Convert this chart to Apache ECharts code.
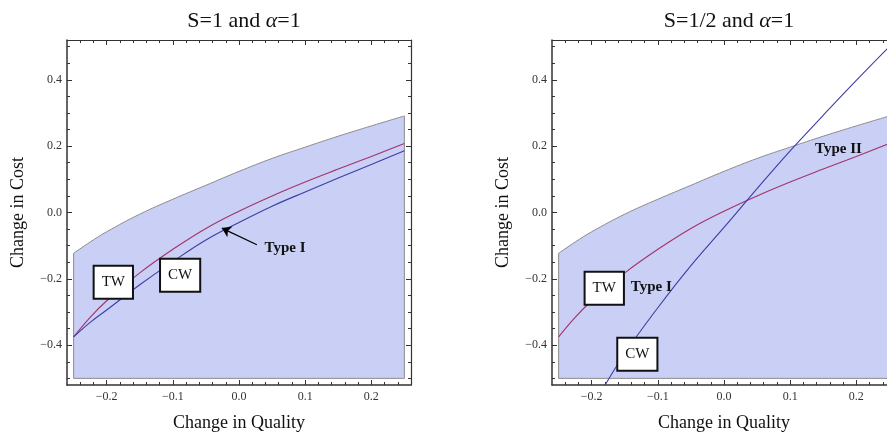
<!DOCTYPE html>
<html>
<head>
<meta charset="utf-8">
<script src="https://cdn.jsdelivr.net/npm/echarts@6/dist/echarts.min.js"></script>
<style>
  html, body { margin: 0; padding: 0; background: #fff; }
  #main { width: 887px; height: 432px; }
</style>
</head>
<body>
<div id="main"></div>
<script>
// quality grid shared by every curve
const qGrid = [-0.25, -0.225, -0.2, -0.15, -0.1, -0.05, 0, 0.05, 0.1, 0.15, 0.2, 0.25];
// top edge of the shaded region, its floor
const regionTop = [-0.123, -0.089, -0.058, -0.005, 0.040, 0.082, 0.124, 0.163, 0.197, 0.230, 0.261, 0.291];
const regionFloor = -0.5;
// TW curve (same in both panels)
const twCost = [-0.375, -0.316, -0.266, -0.182, -0.111, -0.048, 0.004, 0.050, 0.092, 0.131, 0.169, 0.208];
// CW curve, left panel (S=1)
const cwCostLeft = [-0.375, -0.331, -0.294, -0.218, -0.148, -0.083, -0.030, 0.019, 0.062, 0.104, 0.145, 0.186];
// CW curve, right panel (S=1/2)
const cwQRight = [-0.19, -0.15, -0.1, -0.05, 0, 0.05, 0.1, 0.15, 0.2, 0.25];
const cwCostRight = [-0.555, -0.425, -0.287, -0.160, -0.045, 0.072, 0.186, 0.293, 0.398, 0.500];

// ticks
const qMajor = [-0.2, -0.1, 0, 0.1, 0.2];
const qMinor = [-0.24, -0.22, -0.2, -0.18, -0.16, -0.14, -0.12, -0.1, -0.08, -0.06, -0.04, -0.02, 0,
  0.02, 0.04, 0.06, 0.08, 0.1, 0.12, 0.14, 0.16, 0.18, 0.2, 0.22, 0.24];
const cMajor = [-0.4, -0.2, 0, 0.2, 0.4];
const cMinor = [-0.5, -0.45, -0.4, -0.35, -0.3, -0.25, -0.2, -0.15, -0.1, -0.05, 0,
  0.05, 0.1, 0.15, 0.2, 0.25, 0.3, 0.35, 0.4, 0.45, 0.5];

// labels: [x, y, text]
const boxesLeft = [[-0.190, -0.210, 'TW'], [-0.089, -0.189, 'CW']];
const boxesRight = [[-0.181, -0.228, 'TW'], [-0.131, -0.427, 'CW']];
const notesLeft = [[0.0695, -0.106, 'Type I']];
const notesRight = [[-0.110, -0.224, 'Type I'], [0.173, 0.192, 'Type II']];
const arrowLeft = [[0.027, -0.097], [-0.026, -0.047]];

const serif = 'Liberation Serif, Times New Roman, DejaVu Serif, serif';
const frame = '#333';
const fill = '#c9cff5';
const redCol = '#a3336a';
const blueCol = '#3d3da6';

function fmt(v) {
  return (v < 0 ? '\u2212' : '') + Math.abs(v).toFixed(1);
}

function xAxes(g) {
  const base = { gridIndex: g, type: 'value', min: -0.26, max: 0.26, splitLine: { show: false } };
  return [
    Object.assign({}, base, {
      position: 'bottom',
      axisLine: { onZero: false, lineStyle: { color: frame, width: 1.5 } },
      axisTick: { inside: true, length: 5, customValues: qMajor, lineStyle: { color: frame } },
      axisLabel: { customValues: qMajor, formatter: fmt, margin: 6, fontFamily: serif, fontSize: 12, color: '#333' },
      name: 'Change in Quality', nameLocation: 'middle', nameGap: 29,
      nameTextStyle: { fontFamily: serif, fontSize: 18, color: '#111' }
    }),
    Object.assign({}, base, {
      position: 'bottom',
      axisLine: { show: false, onZero: false },
      axisTick: { inside: true, length: 3, customValues: qMinor, lineStyle: { color: frame } },
      axisLabel: { show: false }
    }),
    Object.assign({}, base, {
      position: 'top',
      axisLine: { onZero: false, lineStyle: { color: frame, width: 1.2 } },
      axisTick: { inside: true, length: 5, customValues: qMajor, lineStyle: { color: frame } },
      axisLabel: { show: false }
    }),
    Object.assign({}, base, {
      position: 'top',
      axisLine: { show: false, onZero: false },
      axisTick: { inside: true, length: 3, customValues: qMinor, lineStyle: { color: frame } },
      axisLabel: { show: false }
    })
  ];
}

function yAxes(g) {
  const base = { gridIndex: g, type: 'value', min: -0.52, max: 0.52, splitLine: { show: false } };
  return [
    Object.assign({}, base, {
      position: 'left',
      axisLine: { onZero: false, lineStyle: { color: frame, width: 1.5 } },
      axisTick: { inside: true, length: 5, customValues: cMajor, lineStyle: { color: frame } },
      axisLabel: { customValues: cMajor, formatter: fmt, margin: 5, fontFamily: serif, fontSize: 12, color: '#333' },
      name: 'Change in Cost', nameLocation: 'middle', nameGap: 40,
      nameTextStyle: { fontFamily: serif, fontSize: 18, color: '#111' }
    }),
    Object.assign({}, base, {
      position: 'left',
      axisLine: { show: false, onZero: false },
      axisTick: { inside: true, length: 3, customValues: cMinor, lineStyle: { color: frame } },
      axisLabel: { show: false }
    }),
    Object.assign({}, base, {
      position: 'right',
      axisLine: { onZero: false, lineStyle: { color: frame, width: 1.2 } },
      axisTick: { inside: true, length: 5, customValues: cMajor, lineStyle: { color: frame } },
      axisLabel: { show: false }
    }),
    Object.assign({}, base, {
      position: 'right',
      axisLine: { show: false, onZero: false },
      axisTick: { inside: true, length: 3, customValues: cMinor, lineStyle: { color: frame } },
      axisLabel: { show: false }
    })
  ];
}

function zip(xs, ys) {
  return xs.map((x, i) => [x, ys[i]]);
}

// text marks placed through the axes
function textSeries(ax, items, boxed) {
  return {
    type: 'custom', xAxisIndex: ax, yAxisIndex: ax, z: 5, silent: true,
    data: items,
    renderItem: function (params, api) {
      const pt = api.coord([api.value(0), api.value(1)]);
      const style = {
        text: items[params.dataIndex][2],
        fontFamily: serif, fontSize: 15, fill: '#111',
        align: 'center', verticalAlign: 'middle'
      };
      if (boxed) {
        Object.assign(style, {
          backgroundColor: '#fff', borderColor: '#111', borderWidth: 2,
          padding: [8, 7, 7, 7], lineHeight: 16
        });
      } else {
        style.fontWeight = 'bold';
      }
      return { type: 'text', x: pt[0], y: pt[1], style: style };
    }
  };
}

function panelSeries(g, cwX, cwY, boxes, notes) {
  const ax = g * 4;
  return [
    {
      // shaded region
      type: 'line', xAxisIndex: ax, yAxisIndex: ax, z: 1,
      data: zip(qGrid, regionTop), smooth: 0.4, showSymbol: false, silent: true,
      lineStyle: { color: '#8c8c8c', width: 1 },
      areaStyle: { color: fill, opacity: 1, origin: regionFloor }
    },
    {
      // region outline: sides and floor
      type: 'line', xAxisIndex: ax, yAxisIndex: ax, z: 2,
      data: [[qGrid[0], regionTop[0]], [qGrid[0], regionFloor],
             [qGrid[qGrid.length - 1], regionFloor], [qGrid[qGrid.length - 1], regionTop[regionTop.length - 1]]],
      showSymbol: false, silent: true,
      lineStyle: { color: '#8c8c8c', width: 1 }
    },
    {
      name: 'TW', type: 'line', xAxisIndex: ax, yAxisIndex: ax, z: 3,
      data: zip(qGrid, twCost), smooth: 0.4, showSymbol: false,
      lineStyle: { color: redCol, width: 1.1 }
    },
    {
      name: 'CW', type: 'line', xAxisIndex: ax, yAxisIndex: ax, z: 3,
      data: zip(cwX, cwY), smooth: 0.4, showSymbol: false,
      lineStyle: { color: blueCol, width: 1.1 }
    },
    textSeries(ax, boxes, true),
    textSeries(ax, notes, false)
  ];
}

const chart = echarts.init(document.getElementById('main'), null, { renderer: 'canvas' });

const titleStyle = {
  fontWeight: 'normal',
  rich: {
    n: { fontFamily: serif, fontSize: 22, fontWeight: 'normal', color: '#111' },
    a: { fontFamily: serif, fontSize: 22, fontWeight: 'normal', fontStyle: 'italic', color: '#111' }
  }
};

const series = panelSeries(0, qGrid, cwCostLeft, boxesLeft, notesLeft)
  .concat(panelSeries(1, cwQRight, cwCostRight, boxesRight, notesRight));

series.push({
  type: 'lines', coordinateSystem: 'cartesian2d', xAxisIndex: 0, yAxisIndex: 0, z: 4,
  data: [{ coords: arrowLeft }],
  symbol: ['none', 'arrow'], symbolSize: 9,
  lineStyle: { color: '#000', width: 1.2, opacity: 1 }
});

chart.setOption({
  animation: false,
  backgroundColor: '#fff',
  title: [
    { text: '{n|S=1 and }{a|\u03b1}{n|=1}', left: 239, top: 5, textAlign: 'center', textStyle: titleStyle },
    { text: '{n|S=1/2 and }{a|\u03b1}{n|=1}', left: 724, top: 5, textAlign: 'center', textStyle: titleStyle }
  ],
  grid: [
    { left: 67, top: 40, width: 344, height: 345, containLabel: false, outerBoundsMode: 'none' },
    { left: 552, top: 40, width: 344, height: 345, containLabel: false, outerBoundsMode: 'none' }
  ],
  xAxis: xAxes(0).concat(xAxes(1)),
  yAxis: yAxes(0).concat(yAxes(1)),
  series: series
});
</script>
</body>
</html>
